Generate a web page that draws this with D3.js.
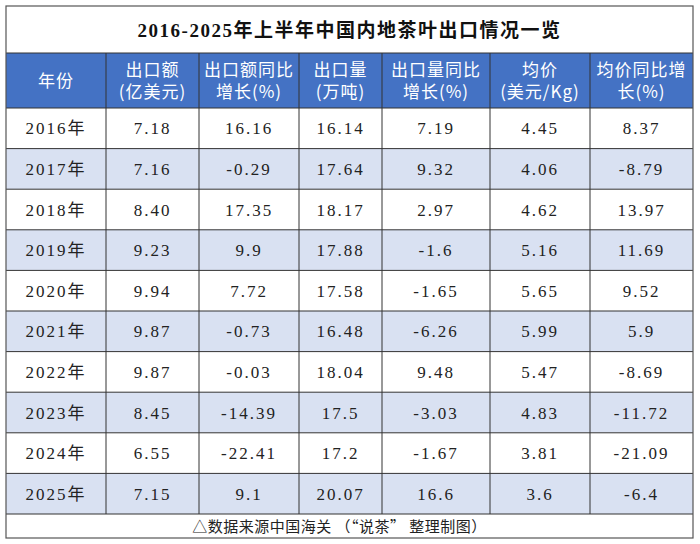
<!DOCTYPE html><html><head><meta charset="utf-8"><script src="https://cdn.jsdelivr.net/npm/d3@7"></script>
<style>body{margin:0;background:#fff}</style></head><body><svg id="c" width="700" height="544"></svg>
<script>
const title="2016-2025年上半年中国内地茶叶出口情况一览";
const headers=[["年份"],["出口额","(亿美元)"],["出口额同比","增长(%)"],["出口量","(万吨)"],["出口量同比","增长(%)"],["均价","(美元/Kg)"],["均价同比增","长(%)"]];
const years=["2016年","2017年","2018年","2019年","2020年","2021年","2022年","2023年","2024年","2025年"];
const exportValue=["7.18","7.16","8.40","9.23","9.94","9.87","9.87","8.45","6.55","7.15"];
const valueGrowth=["16.16","-0.29","17.35","9.9","7.72","-0.73","-0.03","-14.39","-22.41","9.1"];
const exportVolume=["16.14","17.64","18.17","17.88","17.58","16.48","18.04","17.5","17.2","20.07"];
const volumeGrowth=["7.19","9.32","2.97","-1.6","-1.65","-6.26","9.48","-3.03","-1.67","16.6"];
const avgPrice=["4.45","4.06","4.62","5.16","5.65","5.99","5.47","4.83","3.81","3.6"];
const priceGrowth=["8.37","-8.79","13.97","11.69","9.52","5.9","-8.69","-11.72","-21.09","-6.4"];
const footer="△数据来源中国海关 （“说茶” 整理制图）";
const cols=[years,exportValue,valueGrowth,exportVolume,volumeGrowth,avgPrice,priceGrowth];
const colEdges=[6,106,199,299,382,490,590,693];
const svg=d3.select("#c");
const L=6,R=693,T=6,B=538;
const y=d3.scaleBand().domain(years).range([108,514]);
const font="'Noto Sans CJK SC', sans-serif";
const numFont="'Liberation Serif','Noto Sans CJK SC',serif";
svg.append("rect").attr("x",L).attr("y",53).attr("width",R-L).attr("height",55).attr("fill","#4472C4");
years.forEach((yr,i)=>{svg.append("rect").attr("x",L).attr("y",y(yr)).attr("width",R-L).attr("height",y.bandwidth()).attr("fill",i%2?"#D9E1F2":"#fff");});
const line=(x1,y1,x2,y2,c,w)=>svg.append("line").attr("x1",x1).attr("y1",y1).attr("x2",x2).attr("y2",y2).attr("stroke",c).attr("stroke-width",w||1);
[53,108,...years.map(v=>y(v)+y.bandwidth())].forEach(v=>line(L,v,R,v,"#333"));
colEdges.slice(1,-1).forEach(x=>line(x,53,x,514,"#333"));
svg.append("rect").attr("x",L).attr("y",T).attr("width",R-L).attr("height",B-T).attr("fill","none").attr("stroke","#555").attr("stroke-width",1.2);
svg.append("text").attr("x",(L+R)/2).attr("y",37).attr("text-anchor","middle").attr("font-family",numFont).attr("font-weight","bold").attr("font-size",19).attr("letter-spacing",1.5).attr("fill","#111").text(title);
headers.forEach((h,i)=>{const cx=(colEdges[i]+colEdges[i+1])/2;
 h.forEach((t,j)=>svg.append("text").attr("x",cx).attr("y",h.length==1?87:(76+j*22)).attr("text-anchor","middle").attr("font-family",font).attr("font-size",17).attr("letter-spacing",1).attr("fill","#fff").text(t));});
cols.forEach((col,i)=>{const cx=(colEdges[i]+colEdges[i+1])/2;
 col.forEach((v,r)=>svg.append("text").attr("x",cx).attr("y",y(years[r])+y.bandwidth()/2+6).attr("text-anchor","middle").attr("font-family",numFont).attr("font-size",17).attr("letter-spacing",2).attr("fill","#222").text(v));});
svg.append("text").attr("x",(L+R)/2-10).attr("y",532).attr("text-anchor","middle").attr("font-family",font).attr("font-size",15).attr("letter-spacing",0.5).attr("fill","#222").text(footer);
</script></body></html>
